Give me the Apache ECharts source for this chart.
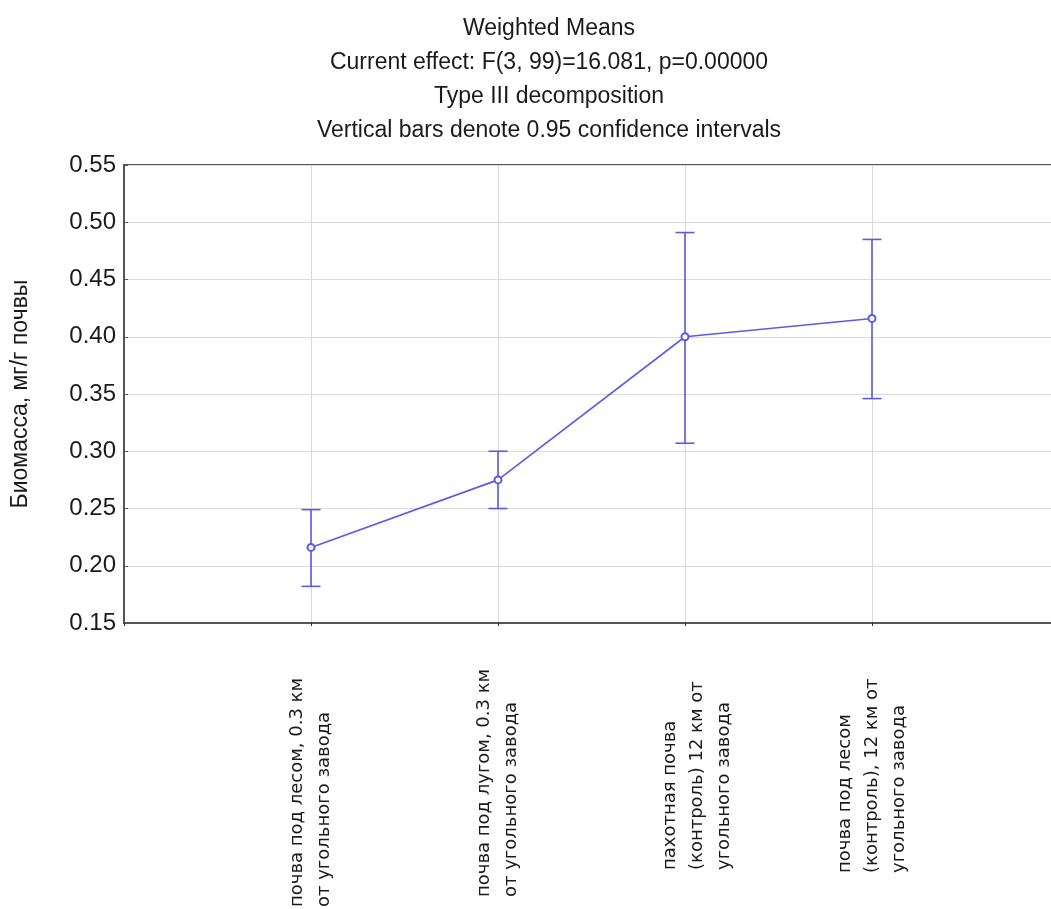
<!DOCTYPE html>
<html>
<head>
<meta charset="utf-8">
<script src="https://cdn.jsdelivr.net/npm/echarts@6/dist/echarts.min.js"></script>
<style>
html,body{margin:0;padding:0;background:#fff;}
#chart{width:1051px;height:909px;}
</style>
</head>
<body>
<div id="chart"></div>
<script>
// ---- data ----
const categories = [
  'почва под лесом, 0.3 км\nот угольного завода',
  'почва под лугом, 0.3 км\nот угольного завода',
  'пахотная почва\n(контроль) 12 км от\nугольного завода',
  'почва под лесом\n(контроль), 12 км от\nугольного завода'
];
const means = [0.216, 0.275, 0.400, 0.416];
const lower = [0.182, 0.250, 0.307, 0.346];
const upper = [0.249, 0.300, 0.491, 0.485];
const yTicks = [0.15, 0.20, 0.25, 0.30, 0.35, 0.40, 0.45, 0.50, 0.55];
const titleLines = [
  'Weighted Means',
  'Current effect: F(3, 99)=16.081, p=0.00000',
  'Type III decomposition',
  'Vertical bars denote 0.95 confidence intervals'
];
const yName = 'Биомасса, мг/г почвы';

// per-label fine placement (text-frame alignment/padding)
const labelVAlign = ['middle', 'middle', 'top', 'middle'];
const labelPad = [[0,0,0,0],[0,0,0,10],[-28,0,0,37],[0,0,0,34]];

const COLOR = '#5b5be6';
const axisCats = [''].concat(categories, [' ']);
const axisData = axisCats.map((c, i) => {
  const k = i - 1;
  if (k >= 0 && k < categories.length) {
    return { value: c, textStyle: {
      align: 'left', verticalAlign: labelVAlign[k], padding: labelPad[k]
    } };
  }
  return c;
});

const chart = echarts.init(document.getElementById('chart'));
chart.setOption({
  animation: false,
  backgroundColor: '#fff',
  title: {
    text: titleLines.join('\n'),
    left: 549,
    textAlign: 'center',
    top: 12,
    padding: 0,
    textStyle: {
      fontFamily: 'Liberation Sans, Arial, sans-serif',
      fontSize: 23,
      fontWeight: 'normal',
      color: '#1a1a1a',
      lineHeight: 34
    }
  },
  grid: {
    left: 124, top: 165, width: 935, height: 458,
    outerBoundsMode: 'none',
    containLabel: false,
    show: true, borderColor: '#555', borderWidth: 2, backgroundColor: '#fff'
  },
  xAxis: {
    type: 'category',
    data: axisData,
    boundaryGap: false,
    axisLine: { lineStyle: { color: '#555', width: 2 } },
    axisTick: { show: true, inside: false, length: 3, lineStyle: { color: '#333' } },
    splitLine: { show: true, lineStyle: { color: '#dadada', width: 1 } },
    axisLabel: {
      interval: 0,
      rotate: 90,
      margin: 284,
      align: 'left',
      verticalAlign: 'middle',
      fontFamily: 'DejaVu Sans, sans-serif',
      fontSize: 18,
      lineHeight: 27,
      color: '#1a1a1a',
      hideOverlap: false
    }
  },
  yAxis: {
    type: 'value',
    min: yTicks[0],
    max: yTicks[yTicks.length - 1],
    interval: 0.05,
    name: yName,
    nameLocation: 'middle',
    nameGap: 92,
    nameTextStyle: {
      fontFamily: 'Liberation Sans, Arial, sans-serif',
      fontSize: 23,
      color: '#1a1a1a'
    },
    axisLine: { show: true, lineStyle: { color: '#555', width: 2 } },
    axisTick: { show: true, inside: true, length: 4, lineStyle: { color: '#555' } },
    splitLine: { show: true, lineStyle: { color: '#dadada', width: 1 } },
    axisLabel: {
      margin: 8,
      formatter: v => v.toFixed(2),
      fontFamily: 'Liberation Sans, Arial, sans-serif',
      fontSize: 24,
      color: '#1a1a1a'
    }
  },
  series: [
    {
      type: 'custom',
      z: 3,
      data: categories.map((c, i) => [c, lower[i], upper[i]]),
      renderItem: function (params, api) {
        const x = api.value(0);
        const lo = api.coord([x, api.value(1)]);
        const hi = api.coord([x, api.value(2)]);
        const hw = 9.5;
        const st = { stroke: COLOR, lineWidth: 1.6 };
        return {
          type: 'group',
          children: [
            { type: 'line', shape: { x1: lo[0], y1: lo[1], x2: hi[0], y2: hi[1] }, style: st },
            { type: 'line', shape: { x1: lo[0] - hw, y1: lo[1], x2: lo[0] + hw, y2: lo[1] }, style: st },
            { type: 'line', shape: { x1: hi[0] - hw, y1: hi[1], x2: hi[0] + hw, y2: hi[1] }, style: st }
          ]
        };
      }
    },
    {
      type: 'line',
      z: 4,
      data: categories.map((c, i) => [c, means[i]]),
      symbol: 'emptyCircle',
      symbolSize: 7,
      lineStyle: { color: COLOR, width: 1.6 },
      itemStyle: { color: COLOR, borderWidth: 1.4 }
    }
  ]
});
</script>
</body>
</html>
